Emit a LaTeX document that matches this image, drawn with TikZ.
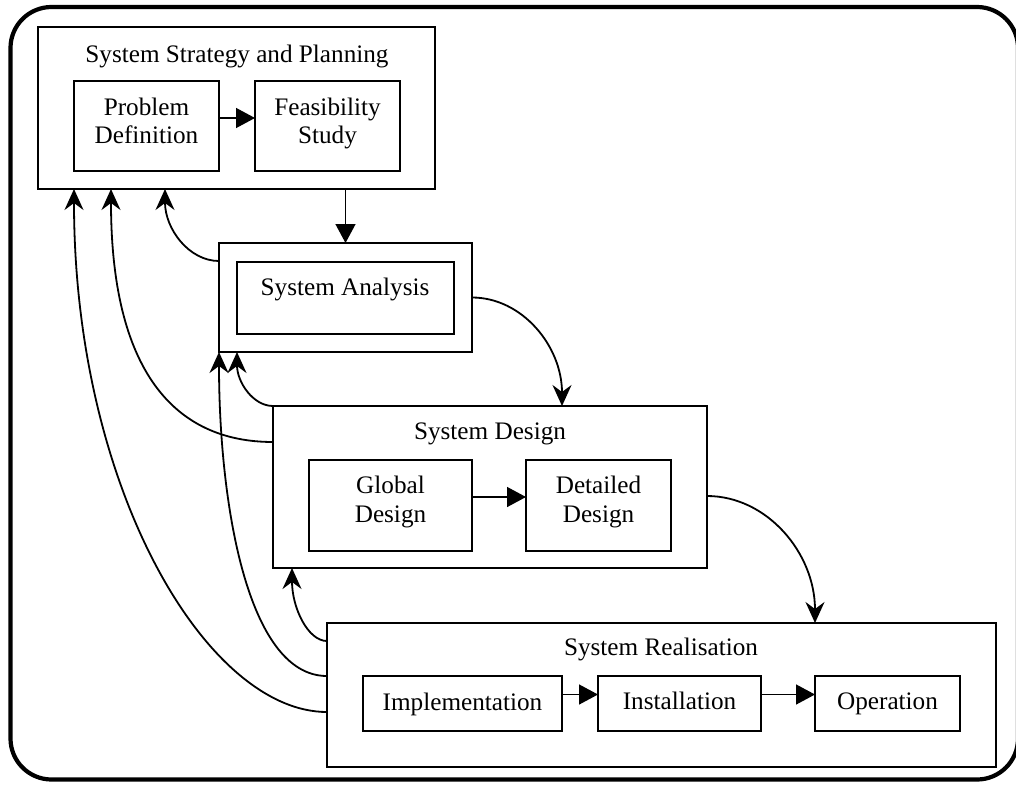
\documentclass[tikz,border=0pt]{standalone}
\usepackage{fontspec}
\setmainfont{Liberation Serif}
\usetikzlibrary{arrows.meta,calc,fit}

\begin{document}
\begin{tikzpicture}[x=1pt,y=-1pt,
  box/.style={draw,line width=1.4pt,inner sep=0pt,outer sep=0pt},
  txt/.style={font=\fontsize{25.2}{28}\selectfont,inner sep=0pt,anchor=base},
  sarrow/.style={line width=1.4pt,-{Triangle[length=19pt,width=20pt]}},
  carrow/.style={line width=1.8pt,-{Stealth[length=21pt,width=19pt,inset=7pt]}}]

\useasboundingbox (0,0) rectangle (1016,784);

% outer frame
\draw[line width=4.2pt,rounded corners=41pt] (10.5,7) rectangle (1018,779.5);

% phase boxes
\node[box,fit={(38,27) (435,189)}] (ssp) {};
\node[box,fit={(74,81) (219,171)}] (pd) {};
\node[box,fit={(255,81) (400,171)}] (fs) {};

\node[box,fit={(219,243) (472,352)}] (sa) {};
\node[box,fit={(237,262) (454,334)}] (sai) {};

\node[box,fit={(273,406) (707,568)}] (sd) {};
\node[box,fit={(309,460) (472,551)}] (gd) {};
\node[box,fit={(526,460) (671,551)}] (dd) {};

\node[box,fit={(327,623) (996,767)}] (sr) {};
\node[box,fit={(363,676) (562,731)}] (impl) {};
\node[box,fit={(598,676) (761,731)}] (inst) {};
\node[box,fit={(815,676) (960,731)}] (oper) {};

% labels
\node[txt] (sspT) at (237,63) {System Strategy and Planning};
\node[txt] (pdA) at (146.5,115) {Problem};
\node[txt] (pdB) at (146.5,143) {Definition};
\node[txt] (fsA) at (327.5,115) {Feasibility};
\node[txt] (fsB) at (327.5,143) {Study};
\node[txt] (saT) at (345,295) {System Analysis};
\node[txt] (sdT) at (490,439) {System Design};
\node[txt] (gdA) at (390.5,493) {Global};
\node[txt] (gdB) at (390.5,522) {Design};
\node[txt] (ddA) at (598.5,493) {Detailed};
\node[txt] (ddB) at (598.5,522) {Design};
\node[txt] (srT) at (661,655) {System Realisation};
\node[txt] (implT) at (462.5,710) {Implementation};
\node[txt] (instT) at (679.5,709) {Installation};
\node[txt] (operT) at (887.5,709) {Operation};

% straight flow arrows
\draw[sarrow] ($(pd.east)+(0,-8)$) -- ($(fs.west)+(0,-8)$);
\draw[sarrow] ($(gd.east)+(0,-8.5)$) -- ($(dd.west)+(0,-8.5)$);
\draw[sarrow] ($(impl.east)+(0,-9)$) -- ($(inst.west)+(0,-9)$);
\draw[sarrow] ($(inst.east)+(0,-9)$) -- ($(oper.west)+(0,-9)$);
\draw[sarrow] (ssp.south -| sa.north) -- (sa.north);

% forward curves
\draw[carrow] (sa.east) .. controls +(50,0) and +(0,-60) .. ($(sd.north west)+(289,0)$);
\draw[carrow] ($(sd.north east)+(0,90)$) .. controls +(60,0) and +(0,-70) .. ($(sr.north west)+(488,0)$);

% feedback curves
\draw[carrow] ($(sa.north west)+(0,18)$) .. controls +(-30,0) and +(0,40) .. ($(ssp.south west)+(127,0)$);
\draw[carrow] ($(sd.north west)+(0,36)$) .. controls +(-100,0) and +(0,180) .. ($(ssp.south west)+(73,0)$);
\draw[carrow] ($(sr.north west)+(0,89)$) .. controls +(-120,0) and +(0,300) .. ($(ssp.south west)+(36,0)$);
\draw[carrow] (sd.north west) .. controls +(-20,0) and +(0,30) .. ($(sa.south west)+(18,0)$);
\draw[carrow] ($(sr.north west)+(0,53)$) .. controls +(-80,0) and +(0,150) .. (sa.south west);
\draw[carrow] ($(sr.north west)+(0,18)$) .. controls +(-19,0) and +(0,40) .. ($(sd.south west)+(19,0)$);

\end{tikzpicture}
\end{document}
